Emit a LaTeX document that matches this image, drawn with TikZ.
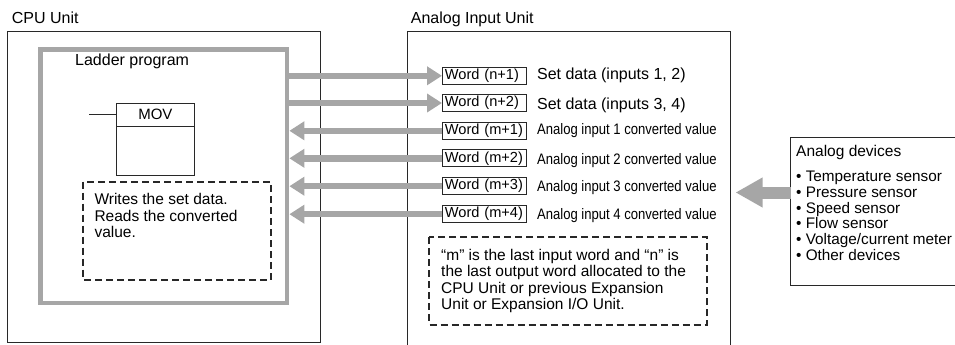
\documentclass[tikz,border=0pt]{standalone}
\usepackage{fontspec}
\setmainfont{Liberation Sans}
\newfontfamily\narrowfont[FakeStretch=0.86]{Liberation Sans}
\usetikzlibrary{arrows.meta, positioning}
\definecolor{busgray}{RGB}{166,166,166}
\definecolor{inkblack}{RGB}{40,40,40}
\tikzset{
  unit frame/.style={draw=inkblack, line width=1pt, inner sep=0pt, outer sep=0pt, anchor=north west},
  ladder frame/.style={draw=busgray, line width=4.3pt, inner sep=0pt},
  note frame/.style={draw=inkblack, line width=2pt, dash pattern=on 7pt off 4pt},
  word box/.style={draw=inkblack, line width=0.9pt, font=\fontsize{14.6}{15}\selectfont, text width=79pt, text height=10.8pt, text depth=3.4pt, inner xsep=2.5pt, inner ysep=1.4pt, anchor=west},
  set text/.style={font=\fontsize{16}{17}\selectfont, inner sep=0pt},
  value text/.style={font=\narrowfont\fontsize{15.2}{16}\selectfont, inner sep=0pt},
  unit title/.style={font=\fontsize{16}{17}\selectfont, anchor=base west, inner sep=0pt},
  note text/.style={font=\fontsize{15.5}{16.2}\selectfont, align=left, anchor=north west, inner sep=0pt},
  bus arrow/.style={draw=busgray, line width=6.5pt, -{Triangle[length=15pt, width=18pt]}},
  feed arrow/.style={draw=busgray, line width=12pt, -{Triangle[length=27pt, width=28pt]}},
}

\begin{document}
\begin{tikzpicture}[x=1pt, y=-1pt]
  \useasboundingbox (0,0) rectangle (955,345);
  % CPU Unit
  \node[unit title] (cputitle) at (11.7,23.3) {CPU Unit};
  \node[unit frame, minimum width=312.5, minimum height=310] (cpu) at (7.5,32) {};
  \node[ladder frame, minimum width=246.7, minimum height=253.7] (ladder) at (163.85,176.35) {};
  \node[unit title] (laddertitle) at (75,65.7) {Ladder program};
  \node[unit frame, minimum width=77.3, minimum height=22.7, font=\fontsize{15}{16}\selectfont] (mov) at (116.7,103.3) {MOV};
  \node[unit frame, minimum width=77.3, minimum height=49.7] (movbody) at (mov.south west) {};
  \draw[inkblack, line width=1pt] (mov.west) -- ++(-27.4,0);
  \draw[note frame] (83.3,181.7) rectangle (270.7,280);
  \node[note text] (cpunote) at (94.3,193.5) {Writes the set data.\\Reads the converted\\value.};
  % Analog Input Unit
  \node[unit title] (aiutitle) at (410.7,23.3) {Analog Input Unit};
  \node[unit frame, minimum width=323.4, minimum height=330] (aiu) at (407.3,31.7) {};
  \foreach \i/\row/\dy in {1/75.8/0, 2/103/-2} {
    \node[word box] (n\i) at (442,\row) {Word (n+\i)};
    \node[set text, right=10pt of n\i, yshift=\dy pt] (n\i label) {Set data (inputs \the\numexpr2*\i-1\relax, \the\numexpr2*\i\relax)};
    \draw[bus arrow] (ladder.east |- n\i.west) -- (n\i.west);
  }
  \foreach \i/\row/\dy in {1/130.8/0, 2/158.3/-2, 3/186.2/-1.5, 4/214.2/-1} {
    \node[word box] (m\i) at (442,\row) {Word (m+\i)};
    \node[value text, right=10pt of m\i, yshift=\dy pt] (m\i label) {Analog input \i\ converted value};
    \draw[bus arrow] (m\i.west) -- (ladder.east |- m\i.west);
  }
  \draw[note frame] (429.3,237) rectangle (707,324.7);
  \node[note text] (aiunote) at (441,249.3) {“m” is the last input word and “n” is\\the last output word allocated to the\\CPU Unit or previous Expansion\\Unit or Expansion I/O Unit.};
  % Analog devices
  \node[unit frame, minimum width=180, minimum height=148.7] (devices) at (790.7,137) {};
  \node[unit title, font=\fontsize{15.5}{16}\selectfont] (devtitle) at (796,156.7) {Analog devices};
  \node[note text, font=\fontsize{15.3}{15.9}\selectfont] (devlist) at (796,170.5) {\textbullet\ Temperature sensor\\\textbullet\ Pressure sensor\\\textbullet\ Speed sensor\\\textbullet\ Flow sensor\\\textbullet\ Voltage/current meter\\\textbullet\ Other devices};
  \coordinate (feedtip) at (735.5,192.5);
  \draw[feed arrow] (devices.west |- feedtip) -- (feedtip);
\end{tikzpicture}
\end{document}
